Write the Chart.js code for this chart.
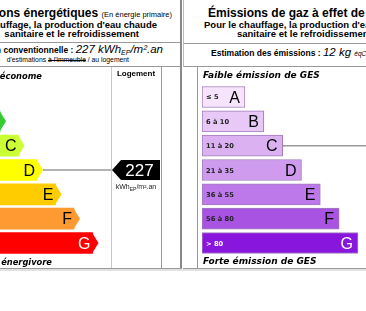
<!DOCTYPE html>
<html><head><meta charset="utf-8">
<script src="https://cdn.jsdelivr.net/npm/chart.js@4.4.1/dist/chart.umd.min.js"></script>
<style>
html,body{margin:0;padding:0;background:#fff;}
#wrap{position:relative;width:366px;height:311px;overflow:hidden;font-family:"Liberation Sans",Arial,sans-serif;color:#000;}
.t{position:absolute;white-space:nowrap;line-height:1;}
.b{font-weight:bold;}
.v{font-family:"DejaVu Sans",Verdana,sans-serif;font-weight:bold;font-style:italic;}
.ln{position:absolute;background:#999;}
canvas{position:absolute;}
</style></head><body>
<div id="wrap">
  <canvas id="energy" width="162" height="202" style="left:0;top:67px;width:162px;height:202px"></canvas>
  <canvas id="ges" width="168" height="202" style="left:198px;top:67px;width:168px;height:202px"></canvas>

  <!-- frame lines -->
  <div class="ln" style="left:0;top:42px;width:181px;height:1px"></div>
  <div class="ln" style="left:0;top:66px;width:181px;height:1px"></div>
  <div class="ln" style="left:183px;top:43px;width:183px;height:1px"></div>
  <div class="ln" style="left:183px;top:66px;width:183px;height:1px"></div>
  <div class="ln" style="left:180px;top:0;width:2px;height:270px;background:#888"></div>
  <div class="ln" style="left:183px;top:0;width:1px;height:67px;background:#bbb"></div>
  <div class="ln" style="left:111px;top:67px;width:1px;height:202px;background:#c8c8c8"></div>
  <div class="ln" style="left:161px;top:67px;width:1px;height:202px;background:#999"></div>
  <div class="ln" style="left:197px;top:67px;width:1px;height:202px;background:#999"></div>
  <div class="ln" style="left:0;top:268px;width:182px;height:1px"></div>
  <div class="ln" style="left:183px;top:268px;width:183px;height:1px"></div>
  <div class="ln" style="left:0;top:269px;width:366px;height:2px;background:#e2e2e2"></div>

  <!-- left header -->
  <div class="t b" style="right:194px;top:7px;font-size:12px">Consommations énergétiques <span style="font-size:7.5px;font-weight:normal">(En énergie primaire)</span></div>
  <div class="t b" style="right:209px;top:20px;font-size:9.5px">Pour le chauffage, la production d'eau chaude</div>
  <div class="t b" style="right:227px;top:29px;font-size:9.5px">sanitaire et le refroidissement</div>
  <div class="t" style="right:203px;top:44px;font-size:11.5px"><span class="b" style="font-size:8.5px">Consommation conventionnelle : </span><i>227 kWh<span style="font-size:7px;vertical-align:-2px">EP</span>/m².an</i></div>
  <div class="t" style="right:237px;top:57px;font-size:6.8px">d'estimations <s>à l'immeuble</s> / au logement</div>

  <!-- right header -->
  <div class="t b" style="left:208px;top:7px;font-size:12px">Émissions de gaz à effet de serre</div>
  <div class="t b" style="left:204px;top:20px;font-size:9.5px">Pour le chauffage, la production d'eau chaude</div>
  <div class="t b" style="left:237px;top:29px;font-size:9.5px">sanitaire et le refroidissement</div>
  <div class="t" style="left:211px;top:47px;font-size:11.5px"><span class="b" style="font-size:8.5px">Estimation des émissions : </span><i>12 kg <span style="font-size:6.5px">éqCO₂/m².an</span></i></div>

  <!-- panel labels -->
  <div class="t v" style="right:324px;top:72px;font-size:8.3px">Logement économe</div>
  <div class="t v" style="right:314px;top:258px;font-size:8.3px">Logement énergivore</div>
  <div class="t b" style="left:111px;width:50px;text-align:center;top:70px;font-size:8px">Logement</div>
  <div class="t v" style="left:203px;top:71px;font-size:9px">Faible émission de GES</div>
  <div class="t v" style="left:203px;top:257px;font-size:9px">Forte émission de GES</div>
</div>
<script>
// ---- data ----
const energyClasses = ['A','B','C','D','E','F','G'];
const energyBarLengths = [1, 2, 3, 4, 5, 6, 7];
const energyLimits = [50, 90, 150, 230, 330, 450];
const energyValue = 227;
const energyUnit = ['kWh', 'EP', '/m².an'];

const gesClasses = ['A','B','C','D','E','F','G'];
const gesRanges = ['≤ 5','6 à 10','11 à 20','21 à 35','36 à 55','56 à 80','> 80'];
const gesBarLengths = [1, 2, 3, 4, 5, 6, 7];
const gesLimits = [5, 10, 20, 35, 55, 80];
const gesValue = 12;

// ---- styles ----
const energyColors = ['#009933','#33cc33','#ccff33','#ffff00','#ffcc00','#ff9a33','#ff0000'];
const gesColors = ['#f5e4fb','#e8c8f6','#dcb1f2','#cf9bef','#bd78ea','#a953e3','#8916dc'];

function classOf(v, limits){ for (let i=0;i<limits.length;i++) if (v<=limits[i]) return i; return limits.length; }

const SANS = '"Liberation Sans", Arial, sans-serif';

const energyDecor = {
  id: 'energyDecor',
  afterDatasetsDraw(chart){
    const ctx = chart.ctx, meta = chart.getDatasetMeta(0), area = chart.chartArea;
    const tip = 6;
    ctx.save();
    meta.data.forEach((bar,i)=>{
      const p = bar.getProps(['x','y','height'], true);
      const h = p.height/2;
      ctx.fillStyle = energyColors[i];
      ctx.beginPath();
      ctx.moveTo(p.x-0.5, p.y-h); ctx.lineTo(p.x+tip, p.y); ctx.lineTo(p.x-0.5, p.y+h);
      ctx.closePath(); ctx.fill();
      ctx.fillStyle = i===6 ? '#fff' : '#000';
      ctx.font = '16px ' + SANS;
      ctx.textAlign = 'right'; ctx.textBaseline = 'alphabetic';
      ctx.fillText(energyClasses[i], p.x-2, p.y+5.8);
    });
    const k = classOf(energyValue, energyLimits);
    const b = meta.data[k].getProps(['x','y','height'], true);
    const tipX = area.right + 1;
    ctx.strokeStyle = '#999'; ctx.lineWidth = 1.5;
    ctx.beginPath(); ctx.moveTo(b.x+tip, b.y); ctx.lineTo(tipX, b.y); ctx.stroke();
    const bodyL = tipX + 9, bodyR = chart.width - 2, hh = 10;
    ctx.fillStyle = '#000';
    ctx.beginPath();
    ctx.moveTo(tipX, b.y); ctx.lineTo(bodyL, b.y-hh); ctx.lineTo(bodyR, b.y-hh);
    ctx.lineTo(bodyR, b.y+hh); ctx.lineTo(bodyL, b.y+hh); ctx.closePath(); ctx.fill();
    ctx.fillStyle = '#fff'; ctx.font = '17px ' + SANS; ctx.textAlign = 'center';
    ctx.fillText(String(energyValue), (bodyL+bodyR)/2 - 1, b.y + 6.1);
    // unit under marker
    ctx.fillStyle = '#222';
    const f1 = '7px ' + SANS, f2 = '5px ' + SANS;
    ctx.font = f1; const w1 = ctx.measureText(energyUnit[0]).width, w3 = ctx.measureText(energyUnit[2]).width;
    ctx.font = f2; const w2 = ctx.measureText(energyUnit[1]).width;
    let x = (tipX + bodyR)/2 - (w1+w2+w3)/2, yb = b.y + 19;
    ctx.textAlign = 'left';
    ctx.font = f1; ctx.fillText(energyUnit[0], x, yb); x += w1;
    ctx.font = f2; ctx.fillText(energyUnit[1], x, yb+1.5); x += w2;
    ctx.font = f1; ctx.fillText(energyUnit[2], x, yb);
    ctx.restore();
  }
};

const gesDecor = {
  id: 'gesDecor',
  afterDatasetsDraw(chart){
    const ctx = chart.ctx, meta = chart.getDatasetMeta(0);
    ctx.save();
    meta.data.forEach((bar,i)=>{
      const p = bar.getProps(['x','y','base','height'], true);
      ctx.textBaseline = 'alphabetic';
      ctx.fillStyle = i===6 ? '#fff' : '#222';
      ctx.font = 'bold 6.7px "DejaVu Sans", Verdana, sans-serif';
      ctx.textAlign = 'left';
      ctx.fillText(gesRanges[i], p.base + 4, p.y + 2.5);
      ctx.font = '16px ' + SANS; ctx.textAlign = 'right';
      ctx.fillStyle = i===6 ? '#fff' : '#000';
      ctx.fillText(gesClasses[i], p.x - 5, p.y + 5.8);
    });
    const k = classOf(gesValue, gesLimits);
    const b = meta.data[k].getProps(['x','y'], true);
    ctx.strokeStyle = '#999'; ctx.lineWidth = 1.5;
    ctx.beginPath(); ctx.moveTo(b.x, b.y); ctx.lineTo(chart.width, b.y); ctx.stroke();
    ctx.restore();
  }
};

const common = {
  responsive: false, animation: false, indexAxis: 'y',
  plugins: { legend: {display:false}, tooltip: {enabled:false} },
  events: []
};

new Chart(document.getElementById('energy'), {
  type: 'bar',
  data: { labels: energyClasses, datasets: [{
    data: energyBarLengths, backgroundColor: energyColors, base: 0,
    borderWidth: 0, barThickness: 21
  }]},
  options: Object.assign({}, common, {
    layout: { padding: { left: 0, right: 51, top: 17.8, bottom: 13.8 } },
    scales: {
      x: { display: false, min: 2, max: 8 },
      y: { display: false }
    }
  }),
  plugins: [energyDecor]
});

const gesMin = -1.283, gesMax = 7.426;
new Chart(document.getElementById('ges'), {
  type: 'bar',
  data: { labels: gesClasses, datasets: [{
    data: gesBarLengths, backgroundColor: gesColors, base: gesMin,
    borderWidth: 1, borderColor: '#a07cb8', borderSkipped: false, barThickness: 21
  }]},
  options: Object.assign({}, common, {
    layout: { padding: { left: 4, right: 0, top: 17.8, bottom: 13.8 } },
    scales: {
      x: { display: false, min: gesMin, max: gesMax },
      y: { display: false }
    }
  }),
  plugins: [gesDecor]
});
</script>
</body></html>
